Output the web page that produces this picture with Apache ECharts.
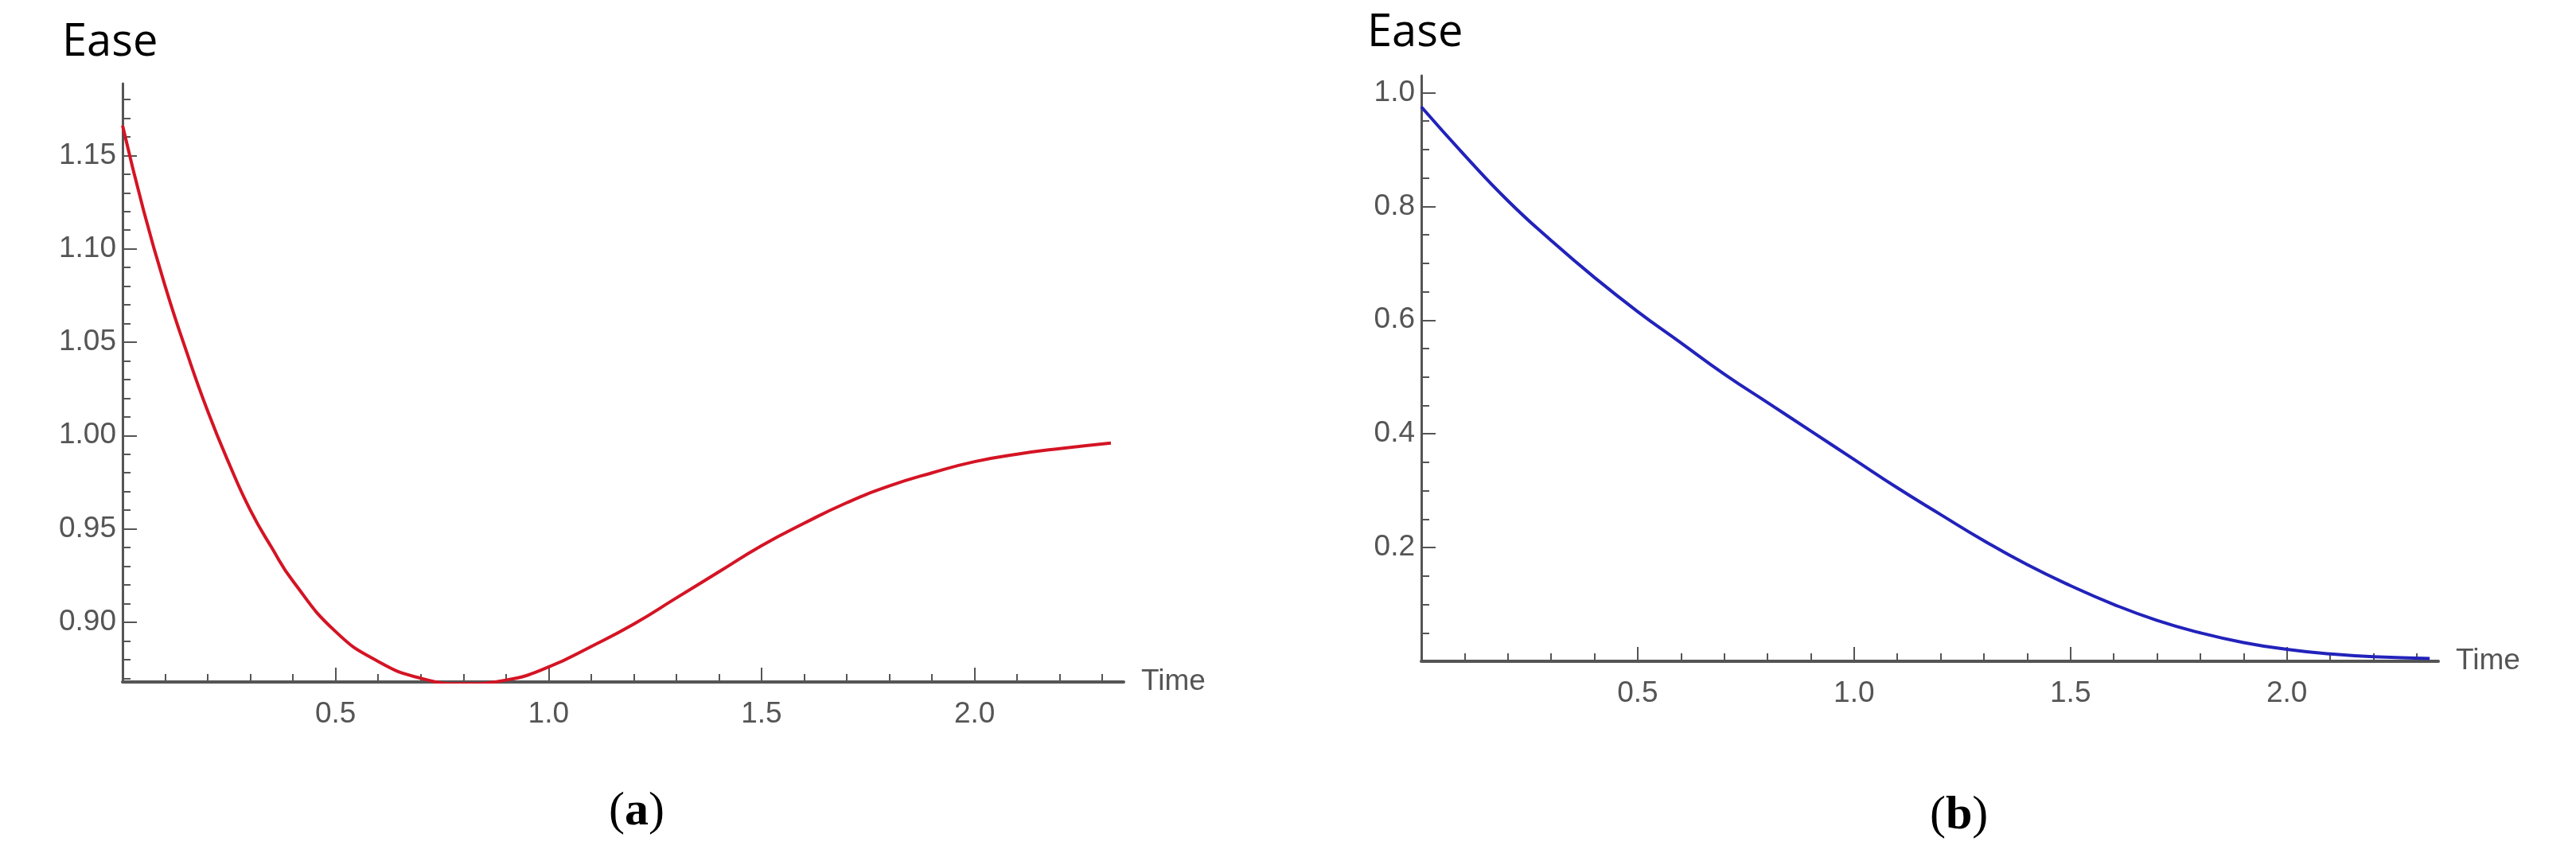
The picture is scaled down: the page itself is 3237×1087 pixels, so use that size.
<!DOCTYPE html>
<html><head><meta charset="utf-8">
<script src="https://cdn.jsdelivr.net/npm/echarts@6/dist/echarts.min.js"></script>
<style>html,body{margin:0;padding:0;background:#fff}#c{width:3237px;height:1087px}</style>
</head><body><div id="c"></div>
<script>
const timeA = [0,0.05,0.1,0.15,0.2,0.25,0.3,0.35,0.4,0.5,0.6,0.7,0.8,0.9,1.0,1.1,1.2,1.3,1.4,1.5,1.6,1.7,1.8,1.9,2.0,2.1,2.2,2.32];
const easeA = [1.166,1.12,1.08,1.045,1.013,0.985,0.96,0.94,0.922,0.895,0.879,0.87,0.867,0.869,0.876,0.887,0.899,0.913,0.927,0.941,0.953,0.964,0.973,0.98,0.986,0.99,0.993,0.996];
const timeB = [0,0.1,0.2,0.3,0.4,0.5,0.6,0.7,0.8,0.9,1.0,1.1,1.2,1.3,1.4,1.5,1.6,1.7,1.8,1.9,2.0,2.1,2.2,2.33];
const easeB = [0.975,0.89,0.81,0.74,0.675,0.615,0.56,0.505,0.455,0.405,0.355,0.305,0.258,0.212,0.17,0.133,0.1,0.072,0.05,0.033,0.021,0.013,0.008,0.005];
const xMajor = [0,0.5,1.0,1.5,2.0];
const xMinor = [0.1,0.2,0.3,0.4,0.6,0.7,0.8,0.9,1.1,1.2,1.3,1.4,1.6,1.7,1.8,1.9,2.1,2.2,2.3];
const yMajorA = [0.90,0.95,1.00,1.05,1.10,1.15];
const yMinorA = [0.87,0.88,0.89,0.91,0.92,0.93,0.94,0.96,0.97,0.98,0.99,1.01,1.02,1.03,1.04,1.06,1.07,1.08,1.09,1.11,1.12,1.13,1.14,1.16,1.17,1.18];
const yMajorB = [0.2,0.4,0.6,0.8,1.0];
const yMinorB = [0.05,0.1,0.15,0.25,0.3,0.35,0.45,0.5,0.55,0.65,0.7,0.75,0.85,0.9,0.95];

const axCol = '#555';
const lblFont = '"Liberation Sans Narrow","Liberation Sans",sans-serif';
function xAxes(g, min, max){
  return [
    {type:'value',gridIndex:g,position:'bottom',min:min,max:max,name:'Time',nameGap:22,
     nameTextStyle:{color:'#555',fontSize:37,fontFamily:lblFont,verticalAlign:'middle'},
     axisLine:{onZero:false,lineStyle:{color:axCol,width:4}},splitLine:{show:false},
     axisTick:{inside:true,length:18,lineStyle:{color:axCol,width:2},customValues:xMajor},
     axisLabel:{color:'#555',fontSize:37,fontFamily:lblFont,margin:22,customValues:xMajor,
       formatter:v=>v===0?'':v.toFixed(1)}},
    {type:'value',gridIndex:g,position:'bottom',offset:0,min:min,max:max,axisLine:{show:false,onZero:false},splitLine:{show:false},
     axisTick:{inside:true,length:10,lineStyle:{color:axCol,width:2},customValues:xMinor},
     axisLabel:{show:false,customValues:xMinor}}
  ];
}
function yAxes(g,min,max,major,minor,dec){
  return [
    {type:'value',gridIndex:g,position:'left',min:min,max:max,
     axisLine:{onZero:false,lineStyle:{color:axCol,width:3}},splitLine:{show:false},
     axisTick:{inside:true,length:18,lineStyle:{color:axCol,width:2},customValues:major},
     axisLabel:{color:'#555',fontSize:37,fontFamily:lblFont,margin:8,customValues:major,
       formatter:v=>v.toFixed(dec)}},
    {type:'value',gridIndex:g,position:'left',offset:0,min:min,max:max,axisLine:{show:false,onZero:false},splitLine:{show:false},
     axisTick:{inside:true,length:10,lineStyle:{color:axCol,width:2},customValues:minor},
     axisLabel:{show:false,customValues:minor}}
  ];
}
const chart = echarts.init(document.getElementById('c'));
chart.setOption({
  animation:false,
  backgroundColor:'#fff',
  grid:[
    {left:154,top:105,width:1258,height:752},
    {left:1786,top:95,width:1278,height:736}
  ],
  xAxis:[...xAxes(0,0,2.35),...xAxes(1,0,2.35)],
  yAxis:[...yAxes(0,0.868,1.1885,yMajorA,yMinorA,2),...yAxes(1,0,1.03,yMajorB,yMinorB,1)],
  series:[
    {type:'line',xAxisIndex:0,yAxisIndex:0,smooth:0.5,showSymbol:false,
     lineStyle:{color:'#d41424',width:4},data:timeA.map((t,i)=>[t,easeA[i]])},
    {type:'line',xAxisIndex:2,yAxisIndex:2,smooth:0.5,showSymbol:false,
     lineStyle:{color:'#2222bb',width:4},data:timeB.map((t,i)=>[t,easeB[i]])}
  ],
  graphic:[
    {type:'text',left:78,top:26,style:{text:'Ease',fontSize:56,fontFamily:'"Open Sans",sans-serif',fill:'#000'}},
    {type:'text',left:1718,top:14,style:{text:'Ease',fontSize:56,fontFamily:'"Open Sans",sans-serif',fill:'#000'}},
    {type:'text',left:765,top:990,style:{rich:{p:{fontSize:60,fontFamily:'"Liberation Serif",serif'},b:{fontSize:60,fontWeight:'bold',fontFamily:'"Liberation Serif",serif'}},text:'{p|(}{b|a}{p|)}',fill:'#000'}},
    {type:'text',left:2425,top:995,style:{rich:{p:{fontSize:60,fontFamily:'"Liberation Serif",serif'},b:{fontSize:60,fontWeight:'bold',fontFamily:'"Liberation Serif",serif'}},text:'{p|(}{b|b}{p|)}',fill:'#000'}}
  ]
});
</script></body></html>
